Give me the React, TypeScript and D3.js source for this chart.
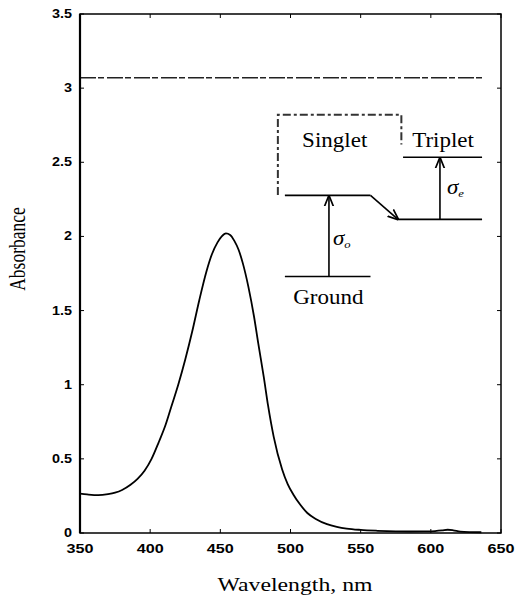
import React from 'react';
import * as d3 from 'd3';

// absorption spectrum
const wavelengths = [350, 355, 363, 370, 375, 380, 386, 391, 396, 401, 406, 411, 415, 420, 425, 430, 435, 440, 444, 448, 451, 454, 457, 460, 463, 466, 470, 474, 477, 481, 484, 488, 494, 498, 502, 507, 512, 518, 526, 533, 540, 550, 562, 575, 585, 595, 603, 608, 612, 616, 621, 628, 636];
const absorbance = [0.265, 0.26, 0.255, 0.262, 0.272, 0.29, 0.325, 0.365, 0.42, 0.5, 0.61, 0.73, 0.85, 1.0, 1.17, 1.36, 1.57, 1.76, 1.88, 1.96, 2.0, 2.02, 2.01, 1.97, 1.91, 1.82, 1.66, 1.46, 1.28, 1.05, 0.86, 0.65, 0.43, 0.33, 0.26, 0.19, 0.135, 0.095, 0.06, 0.042, 0.03, 0.021, 0.015, 0.011, 0.01, 0.011, 0.013, 0.017, 0.022, 0.018, 0.009, 0.006, 0.005];

const xTicks = [350, 400, 450, 500, 550, 600, 650];
const yTicks = [0, 0.5, 1, 1.5, 2, 2.5, 3, 3.5];

// energy level inset, in data units (wavelength, absorbance)
const singletLevel = { x0: 496, x1: 557, y: 2.277 };
const tripletLow = { x0: 576.6, x1: 636.5, y: 2.115 };
const tripletHigh = { x0: 580.2, x1: 636.5, y: 2.534 };
const groundLevel = { x0: 496, x1: 557, y: 1.73 };
const sigmaO = { x: 527.4 };
const sigmaE = { x: 606.5 };
const levelLabels = [
  { text: 'Singlet', x: 531.5, y: 2.6 },
  { text: 'Triplet', x: 608.7, y: 2.6 },
  { text: 'Ground', x: 527, y: 1.545 },
];
const singletBox = { x0: 491, x1: 579, y0: 2.28, y1: 2.82, yRight: 2.62 };
const scanLine = { x0: 350, x1: 637, y: 3.07 };

const W = 516;
const H = 596;
const m = { left: 80, right: 15, top: 14, bottom: 63 };
// the scanned figure is stretched sideways, so text is widened to match
const stretch = 1.32;

const App = () => {
  const x = d3.scaleLinear().domain([350, 650]).range([m.left, W - m.right]);
  const y = d3.scaleLinear().domain([0, 3.5]).range([H - m.bottom, m.top]);

  const line = d3.line<number>()
    .x((d, i) => x(wavelengths[i]))
    .y(d => y(d))
    .curve(d3.curveMonotoneX);

  const tickFont = { fontFamily: 'Liberation Sans, Arial, sans-serif', fontWeight: 700, fontSize: 12 };
  const serif = 'Liberation Serif, Times New Roman, serif';

  const boxPath = `M${x(singletBox.x0)},${y(singletBox.y0)} V${y(singletBox.y1)} H${x(singletBox.x1)} V${y(singletBox.yRight)}`;

  return (
    <svg width={W} height={H} style={{ position: 'absolute', left: 0, top: 0, background: '#fff' }}>
      <defs>
        <marker id="ah" viewBox="0 0 10 10" refX="9" refY="5" markerWidth="7" markerHeight="7" orient="auto-start-reverse">
          <path d="M0,1 L10,5 L0,9" fill="none" stroke="#000" strokeWidth="1.5" />
        </marker>
      </defs>

      {/* scan artefacts kept as dashed strokes */}
      <line x1={x(scanLine.x0)} x2={x(scanLine.x1)} y1={y(scanLine.y)} y2={y(scanLine.y)}
        stroke="#222" strokeWidth={1.5} strokeDasharray="16 2 6 3" />
      <path d={boxPath} fill="none" stroke="#333" strokeWidth={2} strokeDasharray="8 3 3 3" />

      {/* frame */}
      <rect x={m.left} y={m.top} width={W - m.left - m.right} height={H - m.top - m.bottom}
        fill="none" stroke="#000" strokeWidth={1.5} />
      <line x1={m.left} x2={m.left} y1={m.top} y2={H - m.bottom} stroke="#000" strokeWidth={2.2} />

      {xTicks.map(t => (
        <g key={'x' + t}>
          <line x1={x(t)} x2={x(t)} y1={H - m.bottom} y2={H - m.bottom - 4} stroke="#000" />
          <line x1={x(t)} x2={x(t)} y1={m.top} y2={m.top + 4} stroke="#000" />
          <text transform={`translate(${x(t)},553) scale(1.35,1)`} textAnchor="middle" style={tickFont}>{t}</text>
        </g>
      ))}
      {yTicks.map(t => (
        <g key={'y' + t}>
          <line x1={m.left} x2={m.left + 4} y1={y(t)} y2={y(t)} stroke="#000" />
          <line x1={W - m.right} x2={W - m.right - 4} y1={y(t)} y2={y(t)} stroke="#000" />
          <text transform={`translate(72,${y(t) + 4}) scale(1.2,1)`} textAnchor="end" style={tickFont}>{t}</text>
        </g>
      ))}

      <path d={line(absorbance) || ''} fill="none" stroke="#000" strokeWidth={1.8} />

      {/* inset: energy levels */}
      <g stroke="#000" strokeWidth={1.6} fill="none">
        <line x1={x(singletLevel.x0)} x2={x(singletLevel.x1)} y1={y(singletLevel.y)} y2={y(singletLevel.y)} />
        <line x1={x(singletLevel.x1)} x2={x(tripletLow.x0)} y1={y(singletLevel.y)} y2={y(tripletLow.y)} markerEnd="url(#ah)" />
        <line x1={x(tripletLow.x0)} x2={x(tripletLow.x1)} y1={y(tripletLow.y)} y2={y(tripletLow.y)} />
        <line x1={x(tripletHigh.x0)} x2={x(tripletHigh.x1)} y1={y(tripletHigh.y)} y2={y(tripletHigh.y)} />
        <line x1={x(groundLevel.x0)} x2={x(groundLevel.x1)} y1={y(groundLevel.y)} y2={y(groundLevel.y)} />
        <line x1={x(sigmaO.x)} x2={x(sigmaO.x)} y1={y(groundLevel.y)} y2={y(singletLevel.y) + 1} markerEnd="url(#ah)" />
        <line x1={x(sigmaE.x)} x2={x(sigmaE.x)} y1={y(tripletLow.y)} y2={y(tripletHigh.y) + 1} markerEnd="url(#ah)" />
      </g>
      <g style={{ fontFamily: serif, fontSize: 20 }}>
        {levelLabels.map(l => (
          <text key={l.text} transform={`translate(${x(l.x)},${y(l.y)}) scale(1.15,1)`} textAnchor="middle">{l.text}</text>
        ))}
        <text transform={`translate(${x(sigmaO.x) + 4},${y(groundLevel.y) - 31}) scale(1.15,1)`} style={{ fontStyle: 'italic', fontSize: 20 }}>
          σ<tspan fontSize={11} dy={3}>o</tspan>
        </text>
        <text transform={`translate(${x(sigmaE.x) + 7},${y(tripletLow.y) - 25}) scale(1.15,1)`} style={{ fontStyle: 'italic', fontSize: 20 }}>
          σ<tspan fontSize={11} dy={3}>e</tspan>
        </text>
      </g>

      <text transform={`translate(295,591) scale(${stretch},1)`} textAnchor="middle"
        style={{ fontFamily: serif, fontSize: 18 }}>Wavelength, nm</text>
      <text transform={`translate(25,249) scale(${stretch},1) rotate(-90)`} textAnchor="middle"
        style={{ fontFamily: serif, fontSize: 17.5 }}>Absorbance</text>
    </svg>
  );
};

export default App;
